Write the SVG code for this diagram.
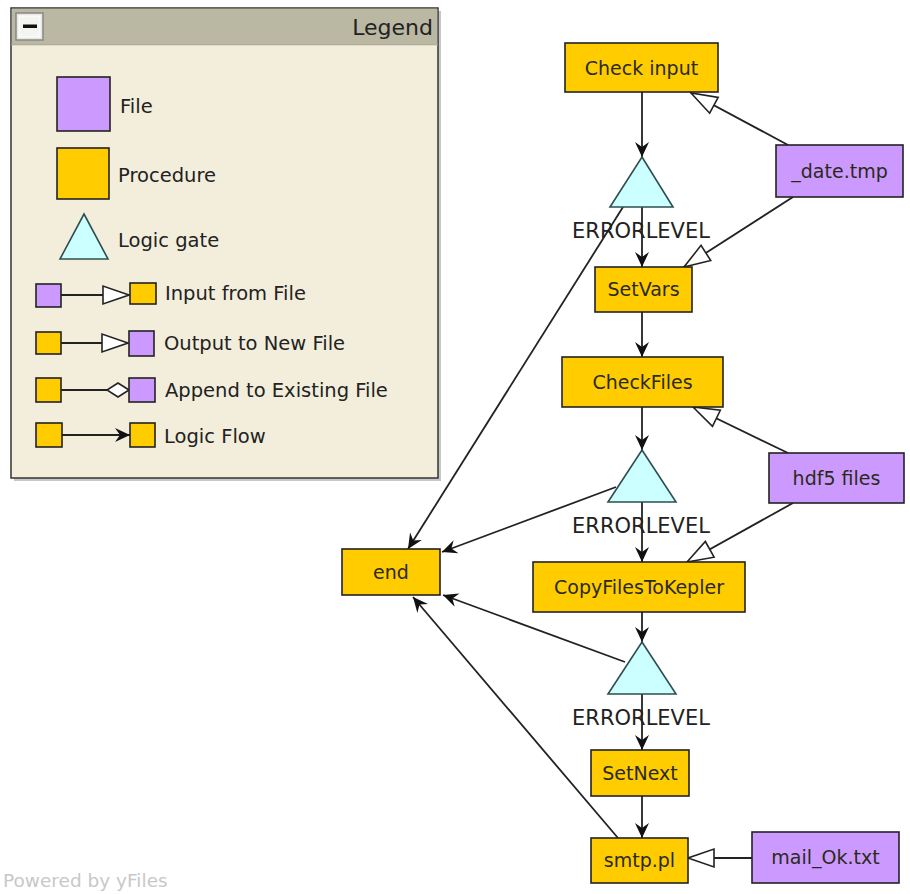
<svg xmlns="http://www.w3.org/2000/svg" width="910" height="894" viewBox="0 0 910 894">
<defs>
<style>
.proc{fill:#ffcc00;stroke:#222;stroke-width:1.6}
.file{fill:#cc99ff;stroke:#222;stroke-width:1.6}
.gate{fill:#ccffff;stroke:#2f4f4f;stroke-width:1.6}
.t{font-family:"DejaVu Sans",sans-serif;font-size:19px;fill:#2a2a1a;text-anchor:middle}
.lt{font-family:"DejaVu Sans",sans-serif;font-size:19.5px;fill:#222}
.el{font-family:"DejaVu Sans",sans-serif;font-size:21px;fill:#222;text-anchor:middle}
.e{stroke:#222;stroke-width:1.8;fill:none}
.flow{marker-end:url(#arrow)}
.inp{marker-end:url(#delta)}
</style>
<marker id="arrow" markerUnits="userSpaceOnUse" viewBox="-16 -9 18 18" refX="0" refY="0" markerWidth="18" markerHeight="18" orient="auto">
<path d="M0,0 L-15,-7 L-10,0 L-15,7 Z" fill="#111"/>
</marker>
<marker id="delta" markerUnits="userSpaceOnUse" viewBox="-28 -11 30 22" refX="0" refY="0" markerWidth="30" markerHeight="22" orient="auto">
<path d="M0,0 L-26,-9 L-26,9 Z" fill="#fff" stroke="#222" stroke-width="1.6"/>
</marker>
<marker id="diamond" markerUnits="userSpaceOnUse" viewBox="-24 -9 26 18" refX="0" refY="0" markerWidth="26" markerHeight="18" orient="auto">
<path d="M0,0 L-11,-7 L-22,0 L-11,7 Z" fill="#fff" stroke="#222" stroke-width="1.6"/>
</marker>
</defs>
<rect width="910" height="894" fill="#fff"/>

<g id="legend">
<rect x="14" y="11" width="427" height="470" fill="#c8c8c8"/>
<rect x="11" y="8" width="427" height="470" fill="#f3eedc" stroke="#333" stroke-width="1.5"/>
<rect x="11.75" y="8.75" width="425.5" height="36" fill="#bab7a3"/>
<line x1="11" y1="44.75" x2="438" y2="44.75" stroke="#a8a590" stroke-width="1"/>
<rect x="16" y="13" width="27" height="27" fill="#e8e8e0" stroke="#888" stroke-width="1.5"/>
<rect x="19" y="16" width="21" height="21" fill="#f4f4f0" stroke="#fff" stroke-width="1"/>
<rect x="23" y="24.5" width="14" height="3.5" fill="#111"/>
<text x="433" y="35" font-family="'DejaVu Sans',sans-serif" font-size="22" fill="#222" text-anchor="end">Legend</text>
<rect x="57" y="77" width="53" height="54" class="file"/>
<text x="120" y="113" class="lt">File</text>
<rect x="57" y="148" width="52" height="51" class="proc"/>
<text x="118" y="182" class="lt">Procedure</text>
<path d="M84,214 L108,259 L60,259 Z" class="gate"/>
<text x="118" y="247" class="lt">Logic gate</text>
<rect x="36" y="284" width="25" height="23" class="file"/>
<line x1="61" y1="295" x2="129" y2="295" class="e inp"/>
<rect x="130" y="283" width="26" height="21" class="proc"/>
<text x="165" y="300" class="lt">Input from File</text>
<rect x="36" y="332" width="25" height="22" class="proc"/>
<line x1="61" y1="343" x2="128" y2="343" class="e inp"/>
<rect x="129" y="331" width="25" height="25" class="file"/>
<text x="164" y="350" class="lt">Output to New File</text>
<rect x="36" y="378" width="25" height="24" class="proc"/>
<line x1="61" y1="390" x2="129" y2="390" class="e" marker-end="url(#diamond)"/>
<rect x="129" y="378" width="26" height="24" class="file"/>
<text x="165" y="397" class="lt">Append to Existing File</text>
<rect x="36" y="423" width="26" height="24" class="proc"/>
<line x1="62" y1="435" x2="130" y2="435" class="e flow"/>
<rect x="130" y="423" width="25" height="24" class="proc"/>
<text x="164" y="443" class="lt">Logic Flow</text>
</g>

<g id="connectors">
<line x1="642" y1="92" x2="642" y2="157" class="e flow"/>
<line x1="642" y1="207" x2="642" y2="267" class="e flow"/>
<line x1="788" y1="145" x2="691" y2="93" class="e inp"/>
<line x1="793" y1="197" x2="684" y2="267" class="e inp"/>
<line x1="623" y1="207" x2="408" y2="549" class="e flow"/>
<line x1="642" y1="312" x2="642" y2="357" class="e flow"/>
<line x1="642" y1="407" x2="642" y2="450" class="e flow"/>
<line x1="642" y1="502" x2="642" y2="562" class="e flow"/>
<line x1="788" y1="453" x2="693" y2="407" class="e inp"/>
<line x1="793" y1="503" x2="687" y2="562" class="e inp"/>
<line x1="616" y1="487" x2="442" y2="552" class="e flow"/>
<line x1="642" y1="612" x2="642" y2="642" class="e flow"/>
<line x1="642" y1="694" x2="642" y2="750" class="e flow"/>
<line x1="625" y1="662" x2="443" y2="595" class="e flow"/>
<line x1="642" y1="796" x2="642" y2="838" class="e flow"/>
<line x1="618" y1="838" x2="413" y2="597" class="e flow"/>
<line x1="752" y1="858" x2="688" y2="858" class="e inp"/>
<text x="641" y="238" class="el">ERRORLEVEL</text>
<text x="641" y="533" class="el">ERRORLEVEL</text>
<text x="641" y="725" class="el">ERRORLEVEL</text>
</g>

<g id="check-input"><rect x="565" y="43" width="153" height="49" class="proc"/><text x="641.5" y="75" class="t">Check input</text></g>
<g id="gate1"><path d="M642,157 L673,207 L610,207 Z" class="gate"/></g>
<g id="date-tmp"><rect x="776" y="145" width="127" height="52" class="file"/><text x="839.5" y="178" class="t">_date.tmp</text></g>
<g id="setvars"><rect x="595" y="267" width="97" height="45" class="proc"/><text x="643.5" y="296" class="t">SetVars</text></g>
<g id="checkfiles"><rect x="562" y="357" width="161" height="50" class="proc"/><text x="642.5" y="389" class="t">CheckFiles</text></g>
<g id="gate2"><path d="M642,450 L676,502 L608,502 Z" class="gate"/></g>
<g id="hdf5-files"><rect x="769" y="453" width="135" height="50" class="file"/><text x="836.5" y="485" class="t">hdf5 files</text></g>
<g id="end"><rect x="342" y="549" width="98" height="46" class="proc"/><text x="391" y="579" class="t">end</text></g>
<g id="copyfiles"><rect x="533" y="562" width="212" height="50" class="proc"/><text x="639" y="594" class="t">CopyFilesToKepler</text></g>
<g id="gate3"><path d="M642,642 L676,694 L608,694 Z" class="gate"/></g>
<g id="setnext"><rect x="591" y="750" width="98" height="46" class="proc"/><text x="640" y="780" class="t">SetNext</text></g>
<g id="smtp"><rect x="591" y="838" width="97" height="45" class="proc"/><text x="639.5" y="867" class="t">smtp.pl</text></g>
<g id="mail-ok"><rect x="752" y="832" width="147" height="51" class="file"/><text x="825.5" y="864" class="t">mail_Ok.txt</text></g>

<text x="3" y="887" font-family="'DejaVu Sans',sans-serif" font-size="18.5" fill="#c8c8c8">Powered by yFiles</text>
</svg>
